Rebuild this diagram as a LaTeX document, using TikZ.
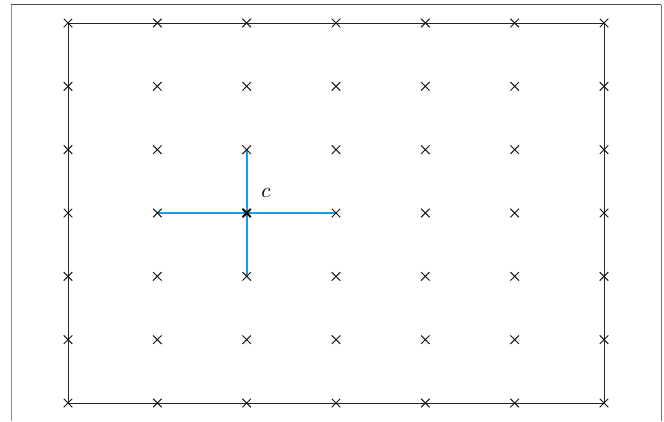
\documentclass[tikz,border=0pt]{standalone}
\usetikzlibrary{shapes.misc}
\definecolor{fblue}{RGB}{20,160,220}
\begin{document}
\begin{tikzpicture}[x=1pt,y=-1pt,
  xmark/.style={draw=black!90,cross out,minimum size=7.5pt,inner sep=0pt,line width=1pt},
  bmark/.style={draw=black,cross out,minimum size=6pt,inner sep=0pt,line width=2pt},
  edge/.style={draw=black!85,line width=1pt},
  blue/.style={draw=fblue,line width=1.7pt}]
\useasboundingbox (0,0) rectangle (664,421);
\fill[white] (0,0) rectangle (664,421);
% frame
\draw[black!45,line width=1pt] (11,421) -- (11,4.5);
\draw[black!70,line width=1pt] (11,4.5) -- (661,4.5);
\draw[black!55,line width=1pt] (661,4.5) -- (661,421);
% grid coordinates
\foreach \i/\x in {0/68,1/157.3,2/246.7,3/336,4/425.3,5/514.7,6/604}{
  \foreach \j/\y in {0/23,1/86.3,2/149.7,3/213,4/276.3,5/339.7,6/403}{
    \coordinate (p\i\j) at (\x,\y);
  }
}
\draw[edge] (p00) -- (p60) -- (p66) -- (p06) -- cycle;
\draw[blue] (p13) -- (p33);
\draw[blue] (p22) -- (p24);
\foreach \i in {0,...,6}{
  \foreach \j in {0,...,6}{
    \node[xmark] (m\i\j) at (p\i\j) {};
  }
}
\node[bmark] (c) at (p23) {};
\node[scale=2.1] (lab) at (266,193) {$c$};
\end{tikzpicture}
\end{document}
